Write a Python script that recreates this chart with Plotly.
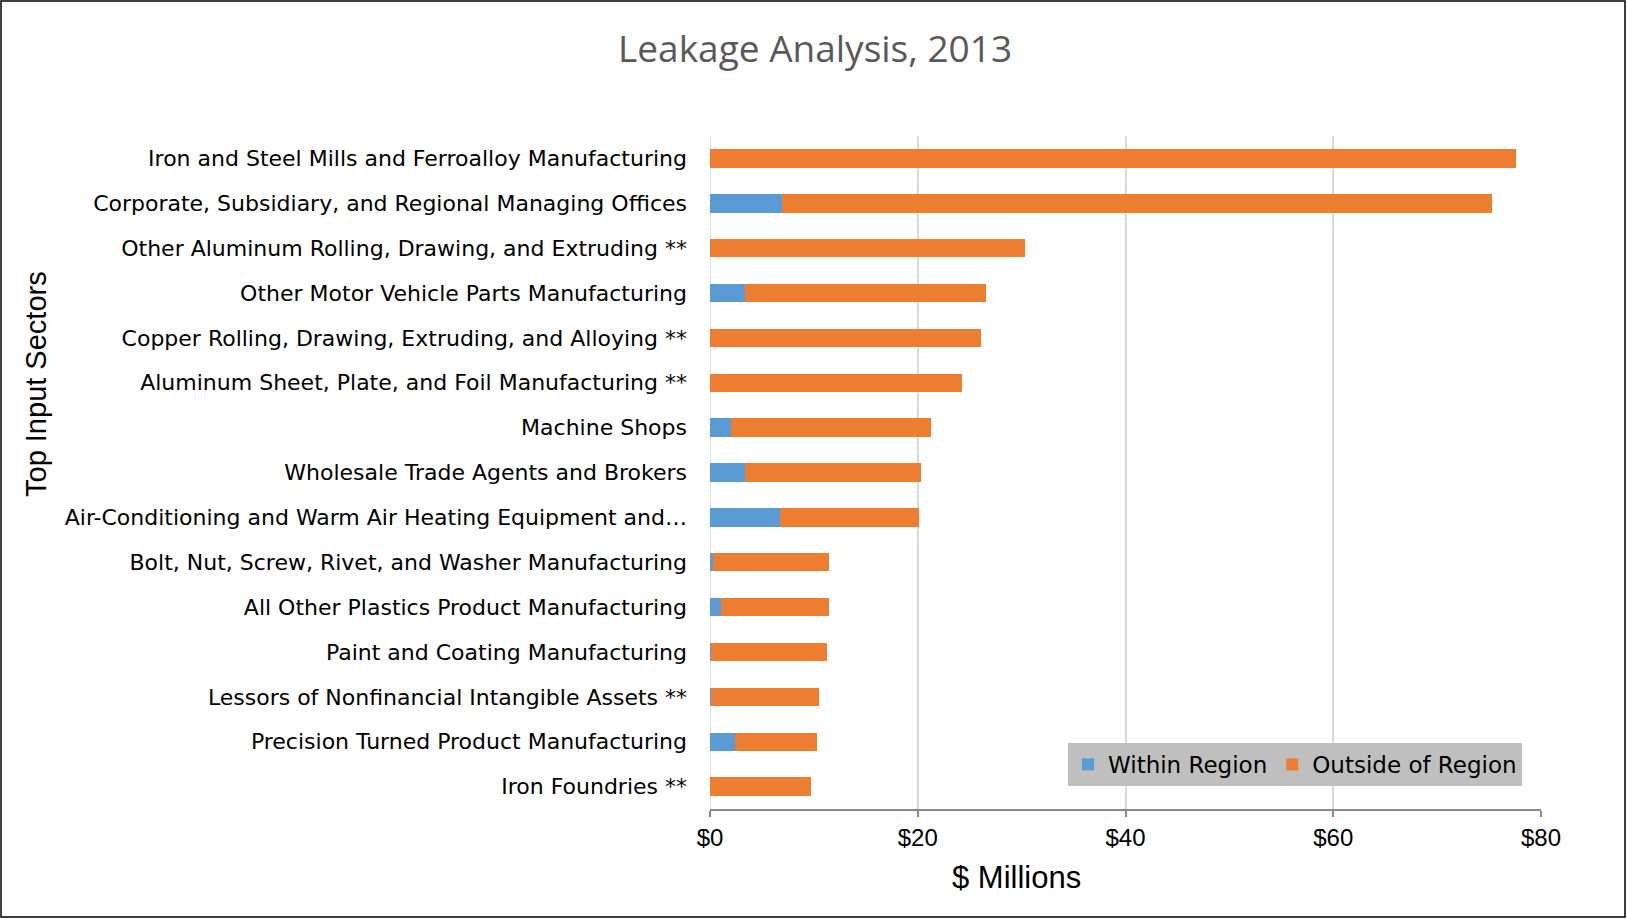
import plotly.graph_objects as go

categories = [
    "Iron and Steel Mills and Ferroalloy Manufacturing",
    "Corporate, Subsidiary, and Regional Managing Offices",
    "Other Aluminum Rolling, Drawing, and Extruding **",
    "Other Motor Vehicle Parts Manufacturing",
    "Copper Rolling, Drawing, Extruding, and Alloying **",
    "Aluminum Sheet, Plate, and Foil Manufacturing **",
    "Machine Shops",
    "Wholesale Trade Agents and Brokers",
    "Air-Conditioning and Warm Air Heating Equipment and…",
    "Bolt, Nut, Screw, Rivet, and Washer Manufacturing",
    "All Other Plastics Product Manufacturing",
    "Paint and Coating Manufacturing",
    "Lessors of Nonfinancial Intangible Assets **",
    "Precision Turned Product Manufacturing",
    "Iron Foundries **",
]
within_region = [0.0, 6.9, 0.0, 3.4, 0.0, 0.0, 2.05, 3.4, 6.7, 0.3, 1.05, 0.1, 0.05, 2.4, 0.0]
outside_region = [77.6, 68.4, 30.3, 23.2, 26.1, 24.3, 19.2, 16.9, 13.4, 11.15, 10.4, 11.15, 10.4, 7.9, 9.75]
x_ticks = [0, 20, 40, 60, 80]
x_tick_labels = ["$0", "$20", "$40", "$60", "$80"]

W, H = 1627, 919
L, R, T, B = 710, 86, 136, 110
pw, ph = W - L - R, H - T - B

def px_x(p):
    return (p - L) / pw

def px_y(p):
    return (H - B - p) / ph

label_font = "DejaVu Sans, sans-serif"
arial = "Liberation Sans, Arial, sans-serif"

fig = go.Figure()
fig.add_trace(go.Bar(
    y=categories, x=within_region, orientation="h", name="Within Region",
    marker=dict(color="#5B9BD5", line=dict(width=0)),
))
fig.add_trace(go.Bar(
    y=categories, x=outside_region, orientation="h", name="Outside of Region",
    marker=dict(color="#ED7D31", line=dict(width=0)),
))

fig.update_layout(
    width=W, height=H,
    barmode="stack", bargap=0.59,
    paper_bgcolor="white", plot_bgcolor="white",
    margin=dict(l=L, r=R, t=T, b=B, autoexpand=False),
    showlegend=True,
    legend=dict(
        orientation="h", x=px_x(1522), xanchor="right", y=px_y(743), yanchor="top",
        bgcolor="#BFBFBF", font=dict(family=label_font, size=23, color="#000000"),
        itemwidth=30, traceorder="normal", tracegroupgap=0,
    ),
    font=dict(family=label_font, color="#000000"),
)

fig.update_xaxes(
    range=[0, 80], tickvals=x_ticks, ticktext=x_tick_labels,
    showgrid=True, gridcolor="#D9D9D9", gridwidth=1.5,
    showline=True, linecolor="#898989", linewidth=2,
    ticks="outside", ticklen=6, tickcolor="#898989", tickwidth=2,
    tickfont=dict(family=arial, size=24, color="#000000"),
    zeroline=False, fixedrange=True,
)
fig.update_yaxes(
    autorange="reversed", showgrid=False, zeroline=False, showline=False,
    ticks="", ticklabelstandoff=22,
    tickfont=dict(family=label_font, size=22, color="#000000"),
    fixedrange=True,
)

# zero gridline on the category axis side
fig.add_shape(type="line", xref="x", yref="paper", x0=0, x1=0, y0=0, y1=1,
              line=dict(color="#D9D9D9", width=1.5), layer="below")

annotations = [
    dict(text="Leakage Analysis, 2013", x=px_x(815), y=px_y(47), xanchor="center", yanchor="middle",
         font=dict(family="Open Sans, sans-serif", size=37, color="#595959")),
    dict(text="Top Input Sectors", x=px_x(36), y=px_y(384), xanchor="center", yanchor="middle",
         textangle=-90, font=dict(family=arial, size=29, color="#000000")),
    dict(text="$ Millions", x=px_x(1016), y=px_y(877), xanchor="center", yanchor="middle",
         font=dict(family=arial, size=31, color="#000000")),
]
for a in annotations:
    fig.add_annotation(xref="paper", yref="paper", showarrow=False, **a)

# outer chart border
fig.add_shape(type="rect", xref="paper", yref="paper",
              x0=px_x(1), x1=px_x(W - 2), y0=px_y(H - 2), y1=px_y(1),
              line=dict(color="#000000", width=1.5), fillcolor="rgba(0,0,0,0)")

fig.write_html(
    "out.html",
    config={"displayModeBar": False},
    post_script="document.body.style.margin='0';document.body.style.overflow='hidden';",
)
